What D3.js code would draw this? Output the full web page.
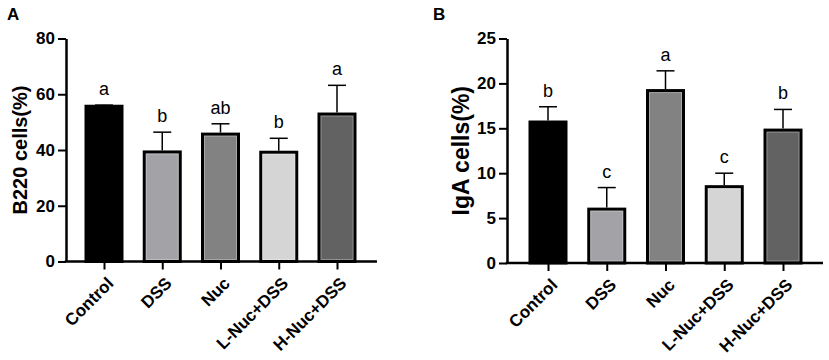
<!DOCTYPE html>
<html>
<head>
<meta charset="utf-8">
<script src="https://cdn.jsdelivr.net/npm/d3@7/dist/d3.min.js"></script>
<style>
  body { margin: 0; background: #fff; }
  svg { display: block; font-family: "Liberation Sans", Arial, sans-serif; }
</style>
</head>
<body>
<div id="chart"></div>
<script>
// groups on the x axis (same for both panels)
const groups = ['Control', 'DSS', 'Nuc', 'L-Nuc+DSS', 'H-Nuc+DSS'];

// panel A - B220 cells (%)
const b220Mean = [55.7, 39.3, 45.7, 39.2, 52.9];
const b220Err = [0.4, 7.1, 3.7, 5.0, 10.3];
const b220Letters = ['a', 'b', 'ab', 'b', 'a'];
const b220Ticks = [0, 20, 40, 60, 80];

// panel B - IgA cells (%)
const igaMean = [15.7, 6.0, 19.2, 8.5, 14.8];
const igaErr = [1.7, 2.4, 2.2, 1.5, 2.3];
const igaLetters = ['b', 'c', 'a', 'c', 'b'];
const igaTicks = [0, 5, 10, 15, 20, 25];

const barColors = ['#000000', '#a3a2a7', '#828282', '#d5d5d5', '#626262'];

const W = 829, H = 360;
const svg = d3.select('#chart').append('svg')
  .attr('width', W).attr('height', H);
svg.append('rect').attr('width', W).attr('height', H).attr('fill', '#fff');

function drawPanel(opt) {
  const g = svg.append('g');

  const y = d3.scaleLinear()
    .domain([0, d3.max(opt.ticks)])
    .range([opt.bottom, opt.top]);

  const x = d3.scalePoint()
    .domain(groups)
    .range([opt.firstX, opt.lastX]);

  const barW = 36;

  // bars
  g.selectAll('rect.bar')
    .data(groups)
    .join('rect')
      .attr('class', 'bar')
      .attr('x', d => x(d) - barW / 2)
      .attr('y', (d, i) => y(opt.mean[i]))
      .attr('width', barW)
      .attr('height', (d, i) => y(0) - y(opt.mean[i]))
      .attr('fill', (d, i) => barColors[i])
      .attr('stroke', '#000')
      .attr('stroke-width', 3);

  // faint inner edge like the GraphPad export
  g.selectAll('rect.inner')
    .data(groups.filter((d, i) => i > 0))
    .join('rect')
      .attr('class', 'inner')
      .attr('x', d => x(d) - barW / 2 + 2)
      .attr('y', d => y(opt.mean[groups.indexOf(d)]) + 2)
      .attr('width', barW - 4)
      .attr('height', d => y(0) - y(opt.mean[groups.indexOf(d)]) - 4)
      .attr('fill', 'none')
      .attr('stroke', '#fff')
      .attr('stroke-opacity', 0.3)
      .attr('stroke-width', 1);

  // error bars (upper only)
  g.selectAll('line.err')
    .data(groups)
    .join('line')
      .attr('class', 'err')
      .attr('x1', d => x(d)).attr('x2', d => x(d))
      .attr('y1', (d, i) => y(opt.mean[i]) - 1.5)
      .attr('y2', (d, i) => y(opt.mean[i] + opt.err[i]))
      .attr('stroke', '#000').attr('stroke-width', 1.5);

  g.selectAll('line.cap')
    .data(groups)
    .join('line')
      .attr('class', 'cap')
      .attr('x1', d => x(d) - 9).attr('x2', d => x(d) + 9)
      .attr('y1', (d, i) => y(opt.mean[i] + opt.err[i]))
      .attr('y2', (d, i) => y(opt.mean[i] + opt.err[i]))
      .attr('stroke', '#000').attr('stroke-width', 1.5);

  // significance letters
  g.selectAll('text.sig')
    .data(groups)
    .join('text')
      .attr('class', 'sig')
      .attr('x', d => x(d))
      .attr('y', (d, i) => y(opt.mean[i] + opt.err[i]) - 10)
      .attr('text-anchor', 'middle')
      .attr('font-size', '18px')
      .attr('fill', '#000')
      .text((d, i) => opt.letters[i]);

  // y axis
  const yAxis = g.append('g')
    .attr('transform', `translate(${opt.left},0)`)
    .call(d3.axisLeft(y).tickValues(opt.ticks).tickSize(8).tickSizeOuter(0).tickPadding(3));
  yAxis.select('.domain').attr('stroke-width', 2.5);
  yAxis.selectAll('.tick line').attr('stroke-width', 2);
  yAxis.selectAll('.tick text')
    .attr('font-size', '17px').attr('font-weight', 'bold')
    .attr('font-family', '"Liberation Sans", Arial, sans-serif')
    .attr('fill', '#000');

  // x axis
  const xAxis = g.append('g')
    .attr('transform', `translate(0,${opt.bottom})`)
    .call(d3.axisBottom(x).tickSize(8).tickSizeOuter(0));
  xAxis.select('.domain').remove();
  xAxis.append('line')
    .attr('x1', opt.left - 1.25).attr('x2', opt.right)
    .attr('y1', 0).attr('y2', 0)
    .attr('stroke', '#000').attr('stroke-width', 2.5);
  xAxis.selectAll('.tick line').attr('stroke-width', 2);
  xAxis.selectAll('.tick text')
    .attr('font-size', '17px').attr('font-weight', 'bold')
    .attr('font-family', '"Liberation Sans", Arial, sans-serif')
    .attr('fill', '#000')
    .attr('text-anchor', 'end')
    .attr('dy', null)
    .attr('y', 0)
    .attr('transform', 'translate(10,23) rotate(-45)');

  // y title
  g.append('text')
    .attr('transform', `translate(${opt.titleX},${(opt.top + opt.bottom) / 2}) rotate(-90)`)
    .attr('text-anchor', 'middle')
    .attr('font-size', opt.titleSize)
    .attr('font-weight', 'bold')
    .text(opt.title);

  // panel letter
  g.append('text')
    .attr('x', opt.panelX).attr('y', 20)
    .attr('font-size', '17px').attr('font-weight', 'bold')
    .text(opt.panel);
}

drawPanel({
  panel: 'A', panelX: 7,
  mean: b220Mean, err: b220Err, letters: b220Letters, ticks: b220Ticks,
  title: 'B220 cells(%)', titleSize: '20px', titleX: 27,
  left: 66, right: 377, firstX: 104, lastX: 337, top: 38.5, bottom: 261.5
});

drawPanel({
  panel: 'B', panelX: 433,
  mean: igaMean, err: igaErr, letters: igaLetters, ticks: igaTicks,
  title: 'IgA cells(%)', titleSize: '23px', titleX: 469,
  left: 507, right: 823, firstX: 548, lastX: 783, top: 38.5, bottom: 263
});
</script>
</body>
</html>
